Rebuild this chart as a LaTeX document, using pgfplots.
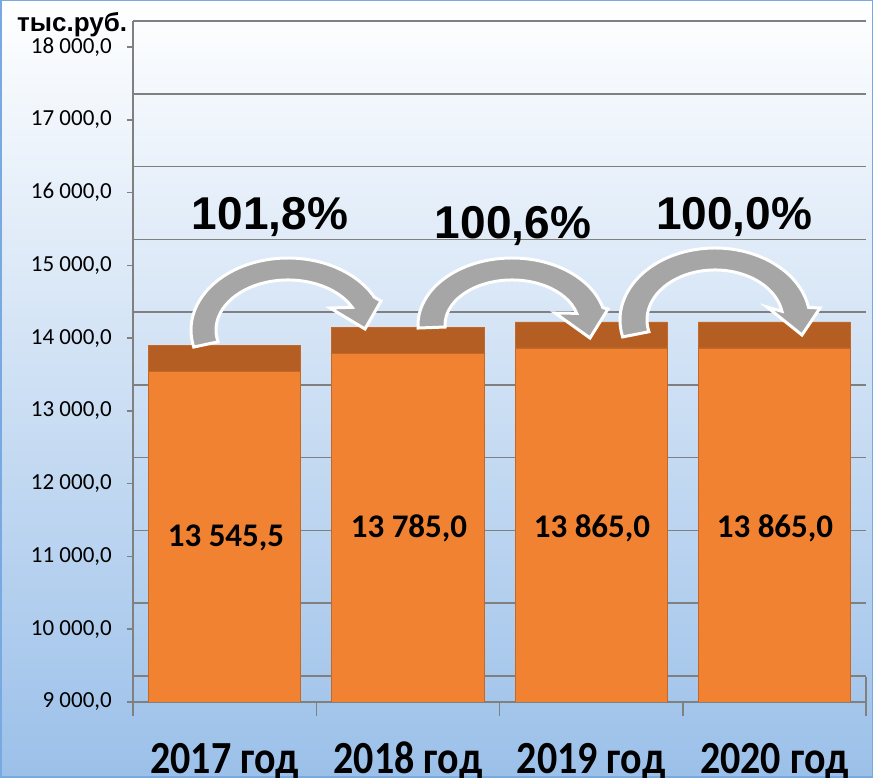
\documentclass[border=0pt]{standalone}
\usepackage{fontspec}
\setmainfont{Carlito}
\newfontfamily\arialf{Liberation Sans}
\usepackage{graphicx}
\usepackage{pgfplots}
\pgfplotsset{compat=1.18}
\usepackage{pgfplotstable}
\definecolor{barfront}{RGB}{240,130,50}
\definecolor{bartop}{RGB}{181,94,35}
\definecolor{baredge}{RGB}{196,104,40}
\definecolor{gridc}{RGB}{128,128,128}
\definecolor{arrowc}{RGB}{166,166,166}
\definecolor{bgbot}{RGB}{155,192,233}
\definecolor{framec}{RGB}{120,170,225}

\pgfplotstableread{
x val depth
0 13545.5 357
1 13785.0 357
2 13865.0 357
3 13865.0 357
}\datatable

\begin{document}
\begin{tikzpicture}[x=1pt,y=1pt]
\useasboundingbox (0,0) rectangle (873,778);
\shade[top color=white, bottom color=bgbot] (0,0) rectangle (873,778);
\draw[framec, line width=1.5pt] (0.75,0.75) rectangle (872.25,777.25);

\begin{axis}[at={(133pt,76pt)}, anchor=south west, scale only axis,
  width=733pt, height=681pt,
  xmin=-0.5, xmax=3.5, ymin=9000, ymax=18357,
  scaled y ticks=false,
  axis x line=bottom, axis y line=left,
  axis line style={-, gridc, line width=1.5pt},
  ybar stacked, bar width=0.83,
  xtick={0,1,2,3},
  xticklabels={\scalebox{1}[1.15]{2017 год},\scalebox{1}[1.15]{2018 год},\scalebox{1}[1.15]{2019 год},\scalebox{1}[1.15]{2020 год}},
  xtick style={draw=none},
  xticklabel style={font=\bfseries\fontsize{40}{40}\selectfont, anchor=base, inner sep=0pt, text=black, yshift=-66pt},
  ytick={9000,10000,...,18000},
  yticklabels={{9 000,0},{10 000,0},{11 000,0},{12 000,0},{13 000,0},{14 000,0},{15 000,0},{16 000,0},{17 000,0},{18 000,0}},
  ytick style={gridc, line width=1.5pt},
  tick align=outside, major tick length=6pt,
  yticklabel style={font=\fontsize{23}{23}\selectfont, inner sep=0pt, xshift=-15pt, text=black},
  extra y ticks={9357,10357,...,18357},
  extra y tick labels={},
  extra y tick style={grid=major, major tick length=0pt},
  major grid style={gridc, line width=1.5pt},
]
\addplot[fill=barfront, draw=baredge, line width=0.8pt] table[x=x,y=val]{\datatable};
\addplot[fill=bartop, draw=baredge, line width=0.8pt] table[x=x,y=depth]{\datatable};
\end{axis}

% floor decorations
\draw[gridc, line width=1.5pt] (866,76) -- (866,101);
\foreach \xx in {133,316.25,499.5,682.75,866} {\draw[gridc, line width=1.5pt] (\xx,76) -- (\xx,62);}

% unit label
\node[anchor=base west, inner sep=0pt, font=\arialf\bfseries\fontsize{26}{26}\selectfont] at (17,746) {тыс.руб.};

% arrows
\filldraw[fill=arrowc, draw=white, line width=3pt, line join=miter]
 ([shift={(288,448)}]193.7:97 and 72) arc[start angle=193.7, end angle=27, x radius=97, y radius=72]
 -- (381,477) -- (365,449) -- (330,470)
 -- ([shift={(288,448)}]27:72 and 50) arc[start angle=27, end angle=193.7, x radius=72, y radius=50] -- cycle;
\filldraw[fill=arrowc, draw=white, line width=3pt, line join=miter]
 ([shift={(512,453)}]182.6:94 and 67) arc[start angle=182.6, end angle=15, x radius=94, y radius=67]
 -- (608,469) -- (590,440) -- (555,465)
 -- ([shift={(512,453)}]15:67 and 45) arc[start angle=15, end angle=182.6, x radius=67, y radius=45] -- cycle;
\filldraw[fill=arrowc, draw=white, line width=3pt, line join=miter]
 ([shift={(715,458)}]193.6:95 and 72) arc[start angle=193.6, end angle=10, x radius=95, y radius=72]
 -- (820,470) -- (802,443) -- (767,471)
 -- ([shift={(715,458)}]10:68 and 50) arc[start angle=10, end angle=193.6, x radius=68, y radius=50] -- cycle;

% percentages
\node[font=\arialf\bfseries\fontsize{46}{46}\selectfont] at (270,561) {101,8\%};
\node[font=\arialf\bfseries\fontsize{46}{46}\selectfont] at (513,552) {100,6\%};
\node[font=\arialf\bfseries\fontsize{46}{46}\selectfont] at (734,561) {100,0\%};

% bar values
\node[font=\bfseries\fontsize{33}{33}\selectfont] at (226,240) {13 545,5};
\node[font=\bfseries\fontsize{33}{33}\selectfont] at (409,250) {13 785,0};
\node[font=\bfseries\fontsize{33}{33}\selectfont] at (592,250) {13 865,0};
\node[font=\bfseries\fontsize{33}{33}\selectfont] at (775,250) {13 865,0};
\end{tikzpicture}
\end{document}
